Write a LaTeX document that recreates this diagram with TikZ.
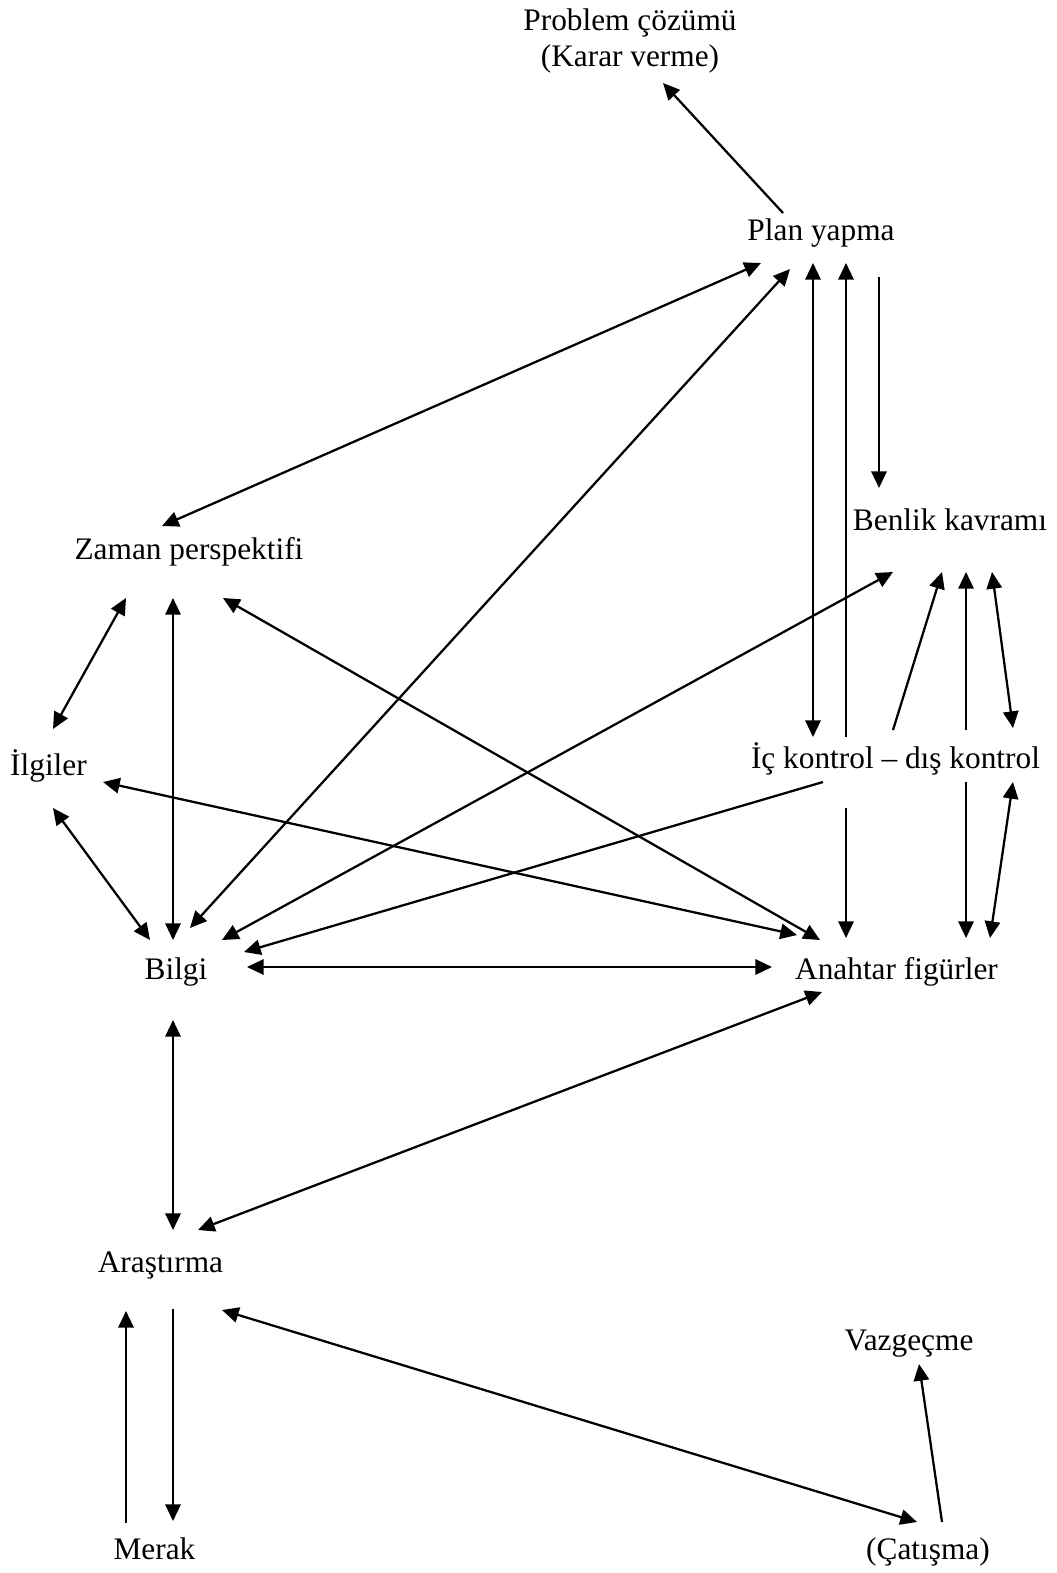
\documentclass[tikz,border=0pt]{standalone}
\usepackage{fontspec}
\setmainfont{Liberation Serif}
\usepackage{tikz}
\usetikzlibrary{arrows.meta}

\begin{document}
\begin{tikzpicture}[x=0.75pt, y=-0.75pt,
    lbl/.style={anchor=base, inner sep=0pt, font=\fontsize{23.5}{27}\selectfont},
    arr/.style={-{Triangle[length=12.5pt,width=11.5pt]}, line width=1.7pt},
    dbl/.style={{Triangle[length=12.5pt,width=11.5pt]}-{Triangle[length=12.5pt,width=11.5pt]}, line width=1.7pt}]
\useasboundingbox (0,0) rectangle (1056,1573);

\node[lbl, anchor=center, align=center] (prob) at (630,41) {Problem çözümü\\(Karar verme)};

\foreach \n/\x/\y/\t in {
    plan/821/240/Plan yapma, benlik/950/530/Benlik kavramı,
    zaman/189/559/Zaman perspektifi, ilgiler/48.5/775/İlgiler,
    ic/895.5/768/İç kontrol – dış kontrol,
    bilgi/176/979/Bilgi, anahtar/896.5/979/Anahtar figürler,
    arastirma/160.5/1272/Araştırma, vazgecme/909/1350/Vazgeçme,
    merak/154.5/1559/Merak, catisma/928/1559/(Çatışma)}
    \node[lbl] (\n) at (\x,\y) {\t};

% plan yapma
\draw[arr] ([shift={(-38,-27)}]plan.base) -- ([shift={(33,42)}]prob.center);
\draw[dbl] ([shift={(-27,-33)}]zaman.base) -- ([shift={(-60,23)}]plan.base);
\draw[dbl] ([shift={(14,-51)}]bilgi.base) -- ([shift={(-31,29)}]plan.base);
\draw[dbl] ([shift={(-8,23)}]plan.base) -- ([shift={(-82.5,-31)}]ic.base);
\draw[arr] ([shift={(-49.5,-31)}]ic.base) -- ([shift={(25,23)}]plan.base);
\draw[arr] ([shift={(58,37)}]plan.base) -- ([shift={(-71,-42)}]benlik.base);

% benlik kavrami
\draw[dbl] ([shift={(46,-39)}]bilgi.base) -- ([shift={(-57,42)}]benlik.base);
\draw[arr] ([shift={(-2.5,-38)}]ic.base) -- ([shift={(-8,42)}]benlik.base);
\draw[arr] ([shift={(70.5,-38)}]ic.base) -- ([shift={(16,42)}]benlik.base);
\draw[dbl] ([shift={(42,42)}]benlik.base) -- ([shift={(117.5,-40)}]ic.base);

% ic kontrol
\draw[arr] ([shift={(-72.5,14)}]ic.base) -- ([shift={(68,-27)}]bilgi.base);
\draw[arr] ([shift={(-49.5,40)}]ic.base) -- ([shift={(-50.5,-41)}]anahtar.base);
\draw[arr] ([shift={(70.5,14)}]ic.base) -- ([shift={(69.5,-41)}]anahtar.base);
\draw[dbl] ([shift={(117.5,14)}]ic.base) -- ([shift={(93.5,-41)}]anahtar.base);

% zaman, ilgiler
\draw[dbl] ([shift={(-63,39)}]zaman.base) -- ([shift={(4.5,-46)}]ilgiler.base);
\draw[dbl] ([shift={(-16,39)}]zaman.base) -- ([shift={(-3,-39)}]bilgi.base);
\draw[dbl] ([shift={(34,39)}]zaman.base) -- ([shift={(-76.5,-39)}]anahtar.base);
\draw[dbl] ([shift={(54.5,7)}]ilgiler.base) -- ([shift={(-99.5,-44)}]anahtar.base);
\draw[dbl] ([shift={(4.5,33)}]ilgiler.base) -- ([shift={(-26,-39)}]bilgi.base);

% bilgi, anahtar figurler
\draw[dbl] ([shift={(71,-12)}]bilgi.base) -- ([shift={(-124.5,-12)}]anahtar.base);
\draw[dbl] ([shift={(-3,41)}]bilgi.base) -- ([shift={(12.5,-42)}]arastirma.base);
\draw[dbl] ([shift={(-74.5,13)}]anahtar.base) -- ([shift={(37.5,-42)}]arastirma.base);

% arastirma
\draw[dbl] ([shift={(61.5,38)}]arastirma.base) -- ([shift={(-11,-37)}]catisma.base);
\draw[arr] ([shift={(-28.5,-36)}]merak.base) -- ([shift={(-34.5,39)}]arastirma.base);
\draw[arr] ([shift={(12.5,37)}]arastirma.base) -- ([shift={(18.5,-38)}]merak.base);
\draw[arr] ([shift={(14,-37)}]catisma.base) -- ([shift={(10,14)}]vazgecme.base);

\end{tikzpicture}
\end{document}
